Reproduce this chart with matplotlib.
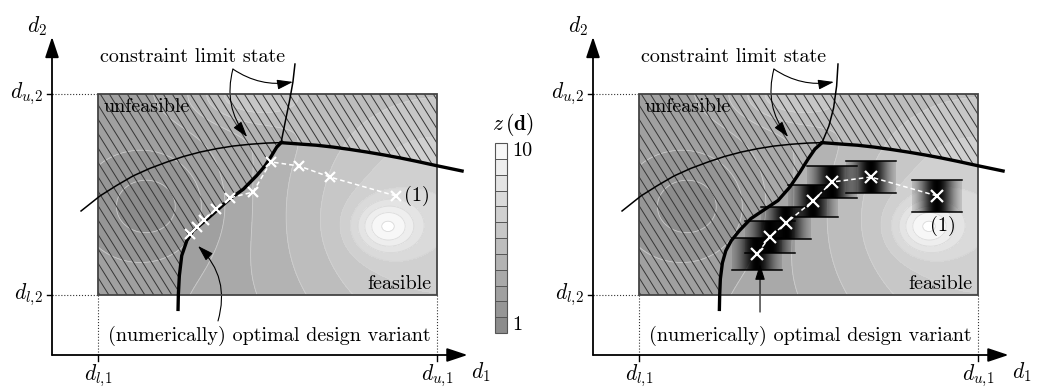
import numpy as np
import matplotlib.pyplot as plt
from matplotlib.collections import LineCollection
from matplotlib.patches import Polygon, Rectangle
from matplotlib.colors import ListedColormap

plt.rcParams['mathtext.fontset'] = 'cm'
plt.rcParams['font.family'] = ['cmr10', 'DejaVu Serif']
plt.rcParams['axes.unicode_minus'] = False

# design space scaled so that d_l -> 0 and d_u -> 1 in both directions
arch_x = [-0.050, 0.006, 0.055, 0.103, 0.153, 0.204, 0.252, 0.301, 0.350, 0.398, 0.449, 0.499, 0.540,
          0.596, 0.645, 0.693, 0.744, 0.794, 0.843, 0.891, 0.940, 1.000, 1.074]
arch_y = [0.418, 0.493, 0.545, 0.592, 0.630, 0.662, 0.689, 0.711, 0.728, 0.741, 0.750, 0.756, 0.758,
          0.751, 0.745, 0.736, 0.724, 0.711, 0.697, 0.682, 0.665, 0.643, 0.617]

s_left_x = [0.236, 0.237, 0.240, 0.247, 0.262, 0.281, 0.311, 0.350, 0.389, 0.429, 0.468, 0.493, 0.512,
            0.527, 0.540, 0.552, 0.566, 0.575, 0.581]
s_left_y = [-0.080, 0.000, 0.096, 0.196, 0.270, 0.320, 0.362, 0.420, 0.478, 0.527, 0.594, 0.643, 0.693,
            0.735, 0.758, 0.859, 0.975, 1.060, 1.149]
s_right_x = [0.237, 0.238, 0.240, 0.246, 0.256, 0.272, 0.296, 0.330, 0.370, 0.410, 0.445, 0.475, 0.499,
             0.519, 0.540, 0.560, 0.574, 0.583, 0.587]
s_right_y = [-0.080, 0.000, 0.080, 0.160, 0.220, 0.270, 0.320, 0.380, 0.425, 0.470, 0.537, 0.612, 0.677,
             0.726, 0.758, 0.840, 0.930, 1.040, 1.149]

path_left_x = [0.879, 0.684, 0.593, 0.510, 0.457, 0.389, 0.348, 0.313, 0.292, 0.271]
path_left_y = [0.493, 0.587, 0.642, 0.662, 0.512, 0.483, 0.428, 0.373, 0.338, 0.303]
path_right_x = [0.879, 0.684, 0.569, 0.513, 0.434, 0.386, 0.348]
path_right_y = [0.493, 0.587, 0.562, 0.468, 0.358, 0.289, 0.204]

# objective z(d): base level plus a broad rise, a dip and two local bumps
z_base = 3.0
bump_cx = [1.00, 0.16, 0.85, 0.45]
bump_cy = [0.40, 0.44, 0.34, 1.00]
bump_amp = [4.0, -1.8, 3.5, 2.5]
bump_sx = [0.35, 0.14, 0.065, 0.12]
bump_sy = [0.60, 0.20, 0.09, 0.10]

z_levels = np.linspace(1, 10, 13)
z_grays = np.linspace(0.55, 0.97, 12)

# pixel layout
W, H = 1037, 390
BOX_W, BOX_H = 339, 201
BOX_TOP = 94 + 201

gx, gy = np.meshgrid(np.linspace(0, 1, 300), np.linspace(0, 1, 200))
z = z_base + 0 * gx
for cx, cy, a, sx, sy in zip(bump_cx, bump_cy, bump_amp, bump_sx, bump_sy):
    z = z + a * np.exp(-0.5 * (((gx - cx) / sx) ** 2 + ((gy - cy) / sy) ** 2))
cmap = ListedColormap([(g, g, g) for g in z_grays])

fig = plt.figure(figsize=(W / 100, H / 100), dpi=100)
FS = 14.5


def draw_panel(ax, right_px, s_x, s_y, p_x, p_y, one_pos, one_ha, arr_start, arr_tip, arr_rad, bands):
    ax.set_xlim(-98 / BOX_W, (right_px - 98) / BOX_W)
    ax.set_ylim((BOX_TOP - H) / BOX_H, BOX_TOP / BOX_H)
    ax.axis('off')

    cf = ax.contourf(gx, gy, z, levels=z_levels, cmap=cmap, zorder=1)
    ax.contour(gx, gy, z, levels=z_levels, colors='#d4d4d4', linewidths=0.6, alpha=0.8, zorder=2)

    s_x = np.array(s_x); s_y = np.array(s_y)
    a_x = np.array(arch_x); a_y = np.array(arch_y)
    xi = a_x[a_y == a_y.max()][0]
    yi = a_y.max()

    # unfeasible region inside the box
    s_in = (s_y >= 0) & (s_y <= yi)
    a_in = (a_x >= xi) & (a_x <= 1)
    poly = [(0, 0)] + list(zip(s_x[s_in], s_y[s_in])) + list(zip(a_x[a_in], a_y[a_in])) + [(1, 1), (0, 1)]
    patch = Polygon(poly, closed=True, fill=False, lw=0)
    ax.add_patch(patch)
    m = 1.6 * BOX_W / BOX_H
    step = 9 / BOX_W
    segs = [[(c - 0.5 / m, 1.5), (c + 1.5 / m, -0.5)] for c in np.arange(-1.2 / m, 1.1, step)]
    lc = LineCollection(segs, colors='#353535', linewidths=0.7, zorder=3)
    ax.add_collection(lc)
    lc.set_clip_path(patch)

    ax.add_patch(Rectangle((0, 0), 1, 1, fill=False, ec='#444444', lw=1.3, zorder=4))

    # gradient bands around each iterate
    if bands:
        hw, hh = 25 / BOX_W, 16 / BOX_H
        u = np.linspace(-1, 1, 101)
        for px, py in zip(p_x, p_y):
            img = np.zeros((2, 101, 4))
            img[..., 3] = np.exp(-(u * hw / 0.05) ** 2)[None, :]
            ax.imshow(img, extent=(px - hw, px + hw, py - hh, py + hh), aspect='auto',
                      interpolation='bilinear', zorder=5)
            ax.plot([px - hw, px + hw], [py + hh, py + hh], color='k', lw=1.1, zorder=5)
            ax.plot([px - hw, px + hw], [py - hh, py - hh], color='k', lw=1.1, zorder=5)

    # limit state curves
    thin_a = a_x <= xi
    ax.plot(a_x[thin_a], a_y[thin_a], color='k', lw=1.1, zorder=6)
    ax.plot(a_x[a_x >= xi], a_y[a_x >= xi], color='k', lw=2.4, zorder=6)
    ax.plot(s_x[s_y <= yi], s_y[s_y <= yi], color='k', lw=2.4, zorder=6, solid_capstyle='butt')
    ax.plot(s_x[s_y >= yi], s_y[s_y >= yi], color='k', lw=1.1, zorder=6)

    # optimisation path
    ax.plot(p_x, p_y, color='white', lw=1.1, dashes=(3, 2), zorder=7)
    ax.plot(p_x, p_y, 'x', color='white', ms=9 if bands else 7.5, mew=1.6, zorder=8)
    ax.text(one_pos[0], one_pos[1], '(1)', ha=one_ha, va='center', fontsize=FS, zorder=9)

    # coordinate axes
    x0, y0 = -46 / BOX_W, -60 / BOX_H
    head = dict(arrowstyle='-|>,head_length=0.9,head_width=0.3', lw=1.3, color='k',
                mutation_scale=14, shrinkA=0, shrinkB=0)
    ax.annotate('', xy=(x0, 1.284), xytext=(x0, y0), arrowprops=head)
    ax.annotate('', xy=(1.09, y0), xytext=(x0, y0), arrowprops=head)
    for v in (0, 1):
        ax.plot([x0 - 5 / BOX_W, x0], [v, v], color='k', lw=1.0)
        ax.plot([x0, 0], [v, v], ':', color='#333333', lw=0.8)
        ax.plot([v, v], [y0 - 6 / BOX_H, y0], color='k', lw=1.0)
        ax.plot([v, v], [0, y0], ':', color='#333333', lw=0.8)

    ax.text(-0.18, 1.338, r'$d_2$', ha='center', va='center', fontsize=FS + 1)
    ax.text(-0.162, 1, r'$d_{u,\!2}$', ha='right', va='center', fontsize=FS + 1)
    ax.text(-0.162, 0, r'$d_{l,\!2}$', ha='right', va='center', fontsize=FS + 1)
    ax.text(0, -0.400, r'$d_{l,\!1}$', ha='center', va='center', fontsize=FS + 1)
    ax.text(1, -0.400, r'$d_{u,\!1}$', ha='center', va='center', fontsize=FS + 1)
    ax.text(1.13, -0.385, r'$d_1$', ha='center', va='center', fontsize=FS + 1)

    ax.text(0.28, 1.184, 'constraint limit state', ha='center', va='center', fontsize=FS)
    ax.text(0.015, 0.935, 'unfeasible', ha='left', va='center', fontsize=FS, zorder=9)
    ax.text(0.985, 0.055, 'feasible', ha='right', va='center', fontsize=FS, zorder=9)
    ax.text(0.505, -0.204, '(numerically) optimal design variant', ha='center', va='center', fontsize=FS)

    thin_arrow = dict(arrowstyle='-|>,head_length=0.8,head_width=0.25', lw=0.8, color='k',
                      mutation_scale=12, shrinkA=0, shrinkB=0)
    ax.annotate('', xy=(0.440, 0.786), xytext=(0.398, 1.124),
                arrowprops=dict(thin_arrow, connectionstyle='arc3,rad=0.25'))
    ax.annotate('', xy=(0.575, 1.06), xytext=(0.398, 1.124),
                arrowprops=dict(thin_arrow, connectionstyle='arc3,rad=0.2'))
    ax.annotate('', xy=arr_tip, xytext=arr_start,
                arrowprops=dict(thin_arrow, connectionstyle='arc3,rad=%g' % arr_rad))
    return cf


ax_l = fig.add_axes([0, 0, 480 / W, 1])
ax_r = fig.add_axes([541 / W, 0, 496 / W, 1])

cf = draw_panel(ax_l, 480, s_left_x, s_left_y, path_left_x, path_left_y, (0.903, 0.493), 'left',
                (0.354, -0.129), (0.295, 0.244), 0.3, False)
draw_panel(ax_r, 1037 - 541, s_right_x, s_right_y, path_right_x, path_right_y, (0.897, 0.343), 'center',
           (0.357, -0.085), (0.357, 0.154), 0.0, True)

cax = fig.add_axes([495 / W, (H - 333) / H, 12 / W, 190 / H])
cb = fig.colorbar(cf, cax=cax, drawedges=True, ticks=[])
cb.outline.set_edgecolor('#555555')
cb.outline.set_linewidth(0.8)
cb.dividers.set_color('#555555')
cb.dividers.set_linewidth(0.7)
cax.text(1.4, 1 - 0.5 / 12, '10', transform=cax.transAxes, ha='left', va='center', fontsize=FS)
cax.text(1.4, 0.5 / 12, '1', transform=cax.transAxes, ha='left', va='center', fontsize=FS)
cax.text(1.5, 1.1, r'$z\,(\mathbf{d})$', transform=cax.transAxes, ha='center', va='center', fontsize=FS + 1)

fig.savefig('out.png', dpi=100)
